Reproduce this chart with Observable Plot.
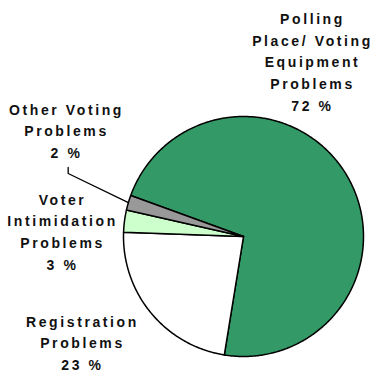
<!DOCTYPE html>
<html>
<head>
<meta charset="utf-8">
<script src="https://cdn.jsdelivr.net/npm/d3@7"></script>
<script src="https://cdn.jsdelivr.net/npm/@observablehq/plot@0.6"></script>
<style>
  html, body { margin: 0; padding: 0; background: #fff; }
  svg text { font-weight: bold; }
</style>
</head>
<body>
<div id="chart"></div>
<script>
// ---- data ----
const categories = [
  "Polling Place/Voting Equipment Problems",
  "Registration Problems",
  "Voter Intimidation Problems",
  "Other Voting Problems"
];
const shares = [72, 23, 3, 2];
const labelLines = [
  ["Polling", "Place/ Voting", "Equipment", "Problems", "72 %"],
  ["Registration", "Problems", "23 %"],
  ["Voter", "Intimidation", "Problems", "3 %"],
  ["Other Voting", "Problems", "2 %"]
];
const sliceColors = ["#339966", "#ffffff", "#ccffcc", "#999999"];

// ---- layout (not data) ----
const W = 374, H = 372;
const R = 120;                  // pie radius in px
const CX = 243, CY = 236;       // pie centre in px
const startDeg = -70;           // first slice starts here (clockwise from 12 o'clock)
// label block centres, in units of the pie radius relative to the centre
const labelAt = [
  {dx: 0.575, dy: 1.467},
  {dx: -1.342, dy: -0.875},
  {dx: -1.508, dy: 0.053},
  {dx: -1.475, dy: 0.892}
];

const pie = d3.pie().sort(null).value(d => d)
  .startAngle(startDeg * Math.PI / 180)
  .endAngle((startDeg + 360) * Math.PI / 180)(shares);

function slicePoints(a0, a1) {
  const pts = [{x: 0, y: 0}];
  const n = Math.max(2, Math.ceil((a1 - a0) / 0.01));
  for (let i = 0; i <= n; i++) {
    const a = a0 + (a1 - a0) * i / n;
    pts.push({x: Math.sin(a), y: Math.cos(a)});
  }
  pts.push({x: 0, y: 0});
  return pts;
}

const sliceMarks = pie.map((p, i) =>
  Plot.line(slicePoints(p.startAngle, p.endAngle), {
    x: "x", y: "y", fill: sliceColors[i], stroke: "#000", strokeWidth: 1.5,
    strokeLinejoin: "round", curve: "linear"
  })
);

const labels = categories.map((c, i) => ({
  text: labelLines[i].join("\n"),
  x: labelAt[i].dx, y: labelAt[i].dy
}));

// leader line for the small "Other" slice
const other = pie[3];
const midOther = (other.startAngle + other.endAngle) / 2;
const lab = labelAt[3];
const leader = [
  {x: lab.dx + 0.014, y: lab.dy - 0.317},
  {x: lab.dx + 0.014, y: lab.dy - 0.367},
  {x: Math.sin(midOther), y: Math.cos(midOther)}
];

const chart = Plot.plot({
  width: W, height: H,
  margin: 0,
  x: {domain: [-CX / R, (W - CX) / R], axis: null},
  y: {domain: [-(H - CY) / R, CY / R], axis: null},
  style: {
    fontFamily: "'Liberation Sans', Arial, sans-serif",
    fontWeight: "bold",
    letterSpacing: "2.6px",
    background: "#fff"
  },
  marks: [
    ...sliceMarks,
    Plot.line(leader, {x: "x", y: "y", stroke: "#000", strokeWidth: 1.3}),
    Plot.text(labels, {
      x: "x", y: "y", text: "text",
      fontSize: 14, fontWeight: "bold", fill: "#111",
      lineHeight: 1.55, lineAnchor: "middle", textAnchor: "middle"
    })
  ]
});
document.getElementById("chart").appendChild(chart);
</script>
</body>
</html>
